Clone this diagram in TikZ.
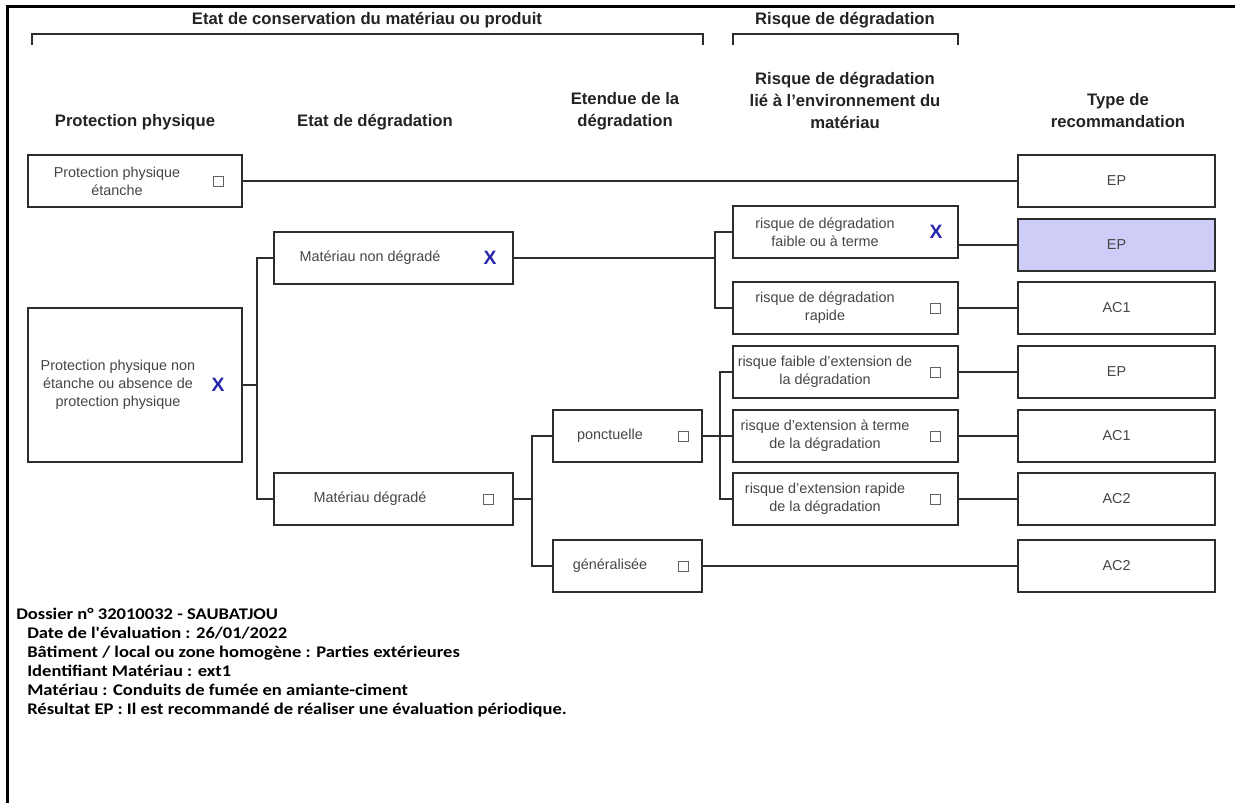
\documentclass[tikz,border=0pt]{standalone}
\usepackage{fontspec}
\setmainfont{Liberation Sans}
\newfontfamily\calibri[FakeStretch=1.14]{Carlito}
\usepackage{tikz}
\usepackage{color}

\definecolor{boxline}{RGB}{45,45,45}
\definecolor{boxtext}{RGB}{70,70,70}
\definecolor{headtext}{RGB}{35,35,35}
\definecolor{chosenfill}{RGB}{205,205,248}
\definecolor{markblue}{RGB}{38,38,170}

\tikzset{
    header/.style={font=\fontsize{12.5}{16.5}\selectfont\bfseries, text=headtext, align=center, inner sep=0pt},
    bracket/.style={draw=boxline, line width=1.5pt},
    box/.style={draw=boxline, line width=1.5pt, fill=white, inner sep=0pt, minimum height=39pt},
    colA/.style={box, minimum width=160.5pt},
    colB/.style={box, minimum width=179.25pt},
    colC/.style={box, minimum width=111.75pt},
    colD/.style={box, minimum width=168.75pt},
    colT/.style={box, minimum width=147.75pt},
    boxlabel/.style={font=\fontsize{10.8}{13.5}\selectfont, text=boxtext, align=center, inner sep=0pt},
    chk/.style={draw=boxline!75, line width=0.75pt, minimum size=7.5pt, inner sep=0pt},
    xmark/.style={font=\fontsize{14.5}{14.5}\selectfont\bfseries, text=markblue, inner sep=0pt},
    link/.style={draw=boxline, line width=1.5pt},
    info/.style={font=\calibri\fontsize{12.2}{14.25}\selectfont\bfseries, anchor=base west, inner sep=0pt}
}

\begin{document}
\begin{tikzpicture}[x=0.75pt, y=-0.75pt]
    % Frame to keep the page size
    \useasboundingbox (0,0) rectangle (1235,803);
    \draw[line width=2.25pt] (1235,6) -- (7,6) -- (7,803);

    % Group headers & brackets
    \node[header] (hdrCons)   at (367,20)  {Etat de conservation du mat\'eriau ou produit};
    \node[header] (hdrRisk)   at (845,20)  {Risque de d\'egradation};
    \draw[bracket] (32,45)  |- (703,34) -- (703,45);
    \draw[bracket] (733,45) |- (958,34) -- (958,45);

    % Column headers
    \node[header] (hdrProt)   at (135,122)  {Protection physique};
    \node[header] (hdrEtat)   at (375,122)  {Etat de d\'egradation};
    \node[header] (hdrEtend)  at (625,111)  {Etendue de la\\d\'egradation};
    \node[header] (hdrEnv)    at (845,100)  {Risque de d\'egradation\\li\'e \`a l'environnement du\\mat\'eriau};
    \node[header] (hdrType)   at (1118,111) {Type de\\recommandation};

    % Protection physique
    \node[colA]                         (pA1) at (135,181)   {};
    \node[colA, minimum height=115.5pt] (pA2) at (135,385)   {};
    \node[boxlabel] (pA1t) at (117,181) {Protection physique\\\'etanche};
    \node[boxlabel] (pA2t) at (118,385) {Protection physique non\\\'etanche ou absence de\\protection physique};
    \node[chk]   (pA1c) at (218,181) {};
    \node[xmark] (pA2x) at (218,385) {X};

    % Etat de degradation
    \node[colB] (mB1) at (393.5,258) {};
    \node[colB] (mB2) at (393.5,499) {};
    \node[boxlabel] (mB1t) at (370,258) {Mat\'eriau non d\'egrad\'e};
    \node[boxlabel] (mB2t) at (370,499) {Mat\'eriau d\'egrad\'e};
    \node[xmark] (mB1x) at (490,258) {X};
    \node[chk]   (mB2c) at (488,499) {};

    % Etendue
    \node[colC] (eC1) at (627.5,436) {};
    \node[colC] (eC2) at (627.5,566) {};
    \node[boxlabel] (eC1t) at (610,436) {ponctuelle};
    \node[boxlabel] (eC2t) at (610,566) {g\'en\'eralis\'ee};
    \node[chk] (eC1c) at (683,436) {};
    \node[chk] (eC2c) at (683,566) {};

    % Risque lie a l'environnement
    \node[colD] (rD1) at (845.5,232) {};
    \node[colD] (rD2) at (845.5,308) {};
    \node[colD] (rD3) at (845.5,372) {};
    \node[colD] (rD4) at (845.5,436) {};
    \node[colD] (rD5) at (845.5,499) {};
    \node[boxlabel] (rD1t) at (825,232) {risque de d\'egradation\\faible ou \`a terme};
    \node[boxlabel] (rD2t) at (825,308) {risque de d\'egradation\\rapide};
    \node[boxlabel] (rD3t) at (825,372) {risque faible d'extension de\\la d\'egradation};
    \node[boxlabel] (rD4t) at (825,436) {risque d'extension \`a terme\\de la d\'egradation};
    \node[boxlabel] (rD5t) at (825,499) {risque d'extension rapide\\de la d\'egradation};
    \node[xmark] (rD1x) at (936,232) {X};
    \node[chk]   (rD2c) at (935,308) {};
    \node[chk]   (rD3c) at (935,372) {};
    \node[chk]   (rD4c) at (935,436) {};
    \node[chk]   (rD5c) at (935,499) {};

    % Type de recommandation
    \node[colT]                  (t1) at (1116.5,181) {};
    \node[colT, fill=chosenfill] (t2) at (1116.5,245) {};
    \node[colT] (t3) at (1116.5,308) {};
    \node[colT] (t4) at (1116.5,372) {};
    \node[colT] (t5) at (1116.5,436) {};
    \node[colT] (t6) at (1116.5,499) {};
    \node[colT] (t7) at (1116.5,566) {};
    \node[boxlabel] (t1t) at (t1) {EP};
    \node[boxlabel] (t2t) at (t2) {EP};
    \node[boxlabel] (t3t) at (t3) {AC1};
    \node[boxlabel] (t4t) at (t4) {EP};
    \node[boxlabel] (t5t) at (t5) {AC1};
    \node[boxlabel] (t6t) at (t6) {AC2};
    \node[boxlabel] (t7t) at (t7) {AC2};

    % Branch points
    \coordinate (busA) at (257,385);
    \coordinate (busB) at (715,258);
    \coordinate (busC) at (532,499);
    \coordinate (busD) at (720,436);

    % Links
    \draw[link] (pA1.east) -- (t1.west);
    \draw[link] (pA2.east) -- (busA);
    \draw[link] (mB1.west) -| (busA);
    \draw[link] (mB2.west) -| (busA);
    \draw[link] (mB1.east) -- (busB);
    \draw[link] (rD1.west) -| (busB);
    \draw[link] (rD2.west) -| (busB);
    \draw[link] (mB2.east) -- (busC);
    \draw[link] (eC1.west) -| (busC);
    \draw[link] (eC2.west) -| (busC);
    \draw[link] (eC1.east) -- (busD) -- (rD4.west);
    \draw[link] (rD3.west) -| (busD);
    \draw[link] (rD5.west) -| (busD);
    \draw[link] (eC2.east) -- (t7.west);
    \draw[link] (t2.west -| rD1.east) -- (t2.west);
    \draw[link] (rD2.east) -- (t3.west);
    \draw[link] (rD3.east) -- (t4.west);
    \draw[link] (rD4.east) -- (t5.west);
    \draw[link] (rD5.east) -- (t6.west);

    % Summary lines
    \node[info] (dossier)  at (16,619) {Dossier n\textdegree{} 32010032 - SAUBATJOU};
    \node[info] (dateEval) at (27,638) {Date de l'\'evaluation : 26/01/2022};
    \node[info] (batiment) at (27,657) {B\^atiment / local ou zone homog\`ene : Parties ext\'erieures};
    \node[info] (ident)    at (27,676) {Identifiant Mat\'eriau : ext1};
    \node[info] (materiau) at (27,695) {Mat\'eriau : Conduits de fum\'ee en amiante-ciment};
    \node[info] (resultat) at (27,714) {R\'esultat EP : Il est recommand\'e de r\'ealiser une \'evaluation p\'eriodique.};
\end{tikzpicture}
\end{document}
